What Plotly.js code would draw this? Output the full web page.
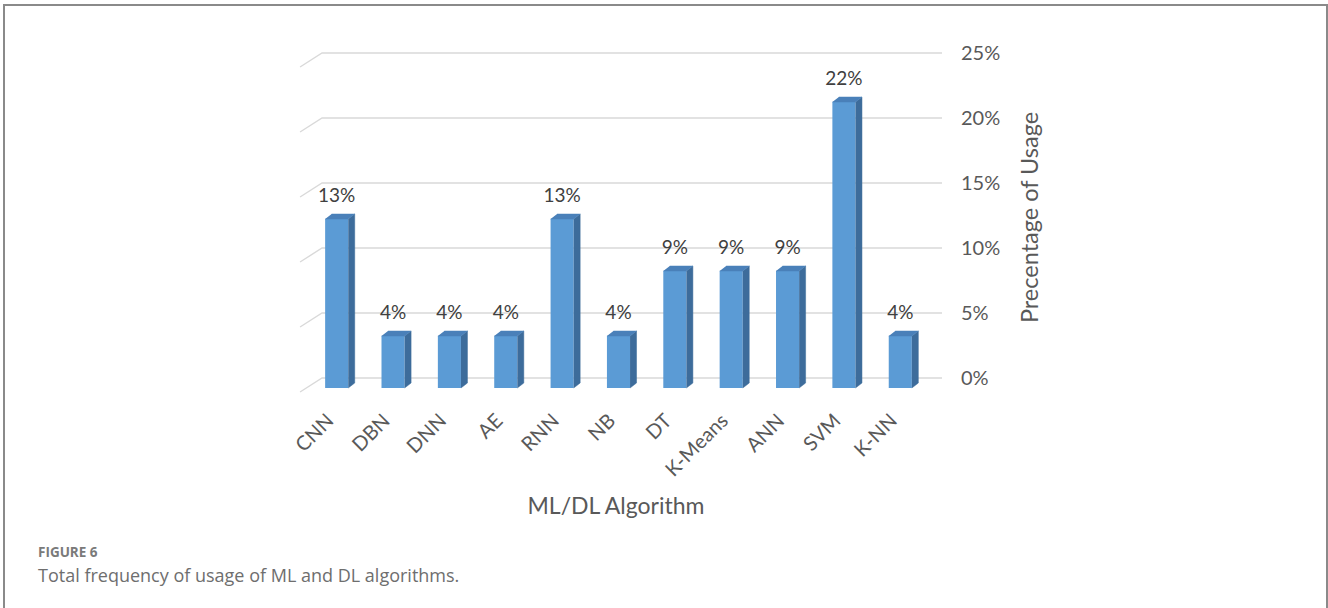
<!DOCTYPE html>
<html>
<head>
<meta charset="utf-8">
<script src="https://cdn.plot.ly/plotly-3.0.1.min.js"></script>
<style>
  html, body { margin: 0; padding: 0; background: #fff; overflow: hidden; }
  #chart { position: absolute; left: 0; top: 0; width: 1328px; height: 608px; }
  #frame { position: absolute; left: 3px; top: 4px; width: 1321px; height: 700px;
           border: 2px solid #8a8a8a; pointer-events: none; }
</style>
</head>
<body>
<div id="chart"></div>
<div id="frame"></div>
<script>
// Share of studies using each ML/DL algorithm (percent)
const categories = ['CNN', 'DBN', 'DNN', 'AE', 'RNN', 'NB', 'DT', 'K-Means', 'ANN', 'SVM', 'K-NN'];
const usagePct = [13, 4, 4, 4, 13, 4, 9, 9, 9, 22, 4];
const tickPct = [0, 5, 10, 15, 20, 25];
const tickText = tickPct.map(t => t + '%');

// Plot box in pixels
const W = 1328, H = 608;
const M = { l: 290, r: 386, t: 40, b: 213 };
const plotW = W - M.l - M.r, plotH = H - M.t - M.b;

// Pseudo-3D geometry, in axis units (category slots / percent)
const FRONT_DX = -0.24, FRONT_DY = -0.77;   // bar front plane relative to back wall
const BAR_W = 0.41;
const SIDE_DX = 0.115, SIDE_DY = 0.385;     // bar depth
const FLOOR_DX = -0.39, FLOOR_DY = -1.077;  // floor depth (wall to front edge)
const LABEL_LIFT = 1.7;
const N = categories.length;

const idx = categories.map((_, i) => i);

// Side and top faces of each column
const sideX = [], sideY = [], topX = [], topY = [];
usagePct.forEach((v, i) => {
  const x0 = i + FRONT_DX - BAR_W / 2, x1 = i + FRONT_DX + BAR_W / 2;
  const b = FRONT_DY, t = v + FRONT_DY;
  sideX.push(x1, x1 + SIDE_DX, x1 + SIDE_DX, x1, null);
  sideY.push(b, b + SIDE_DY, t + SIDE_DY, t, null);
  topX.push(x0, x1, x1 + SIDE_DX, x0 + SIDE_DX, null);
  topY.push(t, t, t + SIDE_DY, t + SIDE_DY, null);
});

const traces = [
  {
    type: 'bar', x: idx, y: usagePct, base: FRONT_DY,
    width: BAR_W, offset: FRONT_DX - BAR_W / 2,
    marker: { color: '#5b9bd5', line: { width: 0 } },
    hoverinfo: 'skip', showlegend: false
  },
  {
    type: 'scatter', mode: 'lines', x: sideX, y: sideY, fill: 'toself',
    fillcolor: '#3d6c9b', line: { color: '#3d6c9b', width: 0.5 },
    hoverinfo: 'skip', showlegend: false
  },
  {
    type: 'scatter', mode: 'lines', x: topX, y: topY, fill: 'toself',
    fillcolor: '#4a80b9', line: { color: '#4a80b9', width: 0.5 },
    hoverinfo: 'skip', showlegend: false
  },
  {
    type: 'scatter', mode: 'text',
    x: idx.map(i => i + FRONT_DX),
    y: usagePct.map(v => v + FRONT_DY + LABEL_LIFT),
    text: usagePct.map(v => v + '%'),
    textposition: 'middle center',
    textfont: { family: 'Lato, sans-serif', size: 19, color: '#404040' },
    hoverinfo: 'skip', showlegend: false
  }
];

// Back-wall gridlines with a slanted stub on the side wall
const gridShapes = tickPct.map(t => ({
  type: 'path', xref: 'x', yref: 'y', layer: 'below',
  path: `M ${-0.5 + FLOOR_DX} ${t + FLOOR_DY} L -0.5 ${t} L ${N - 0.5} ${t}`,
  line: { color: '#d9d9d9', width: 1.4 }
}));

const px2paperX = px => (px - M.l) / plotW;
const px2paperY = py => (H - M.b - py) / plotH;

const layout = {
  width: W, height: H,
  margin: M,
  paper_bgcolor: '#fff', plot_bgcolor: '#fff',
  showlegend: false,
  font: { family: 'Lato, sans-serif', color: '#595959' },
  xaxis: {
    range: [-0.5 - (plotW / 56.36 - N), N - 0.5],
    tickvals: idx.map(i => i - 0.4), ticktext: categories,
    tickangle: -45, ticks: '', ticklabelstandoff: 9,
    showgrid: false, zeroline: false, showline: false,
    tickfont: { family: 'Lato, sans-serif', size: 20, color: '#595959' },
    title: { text: 'ML/DL Algorithm', standoff: 18,
             font: { family: 'Lato, sans-serif', size: 23, color: '#595959' } }
  },
  yaxis: {
    side: 'right',
    range: [26 - plotH / 13, 26],
    tickvals: tickPct, ticktext: tickText, ticks: '', ticklabelstandoff: 18,
    showgrid: false, zeroline: false, showline: false,
    tickfont: { family: 'Lato, sans-serif', size: 20, color: '#595959' },
    title: { text: 'Precentage of Usage', standoff: 22,
             font: { family: 'Lato, sans-serif', size: 23.5, color: '#595959' } }
  },
  shapes: gridShapes,
  annotations: [
    { xref: 'paper', yref: 'paper', x: px2paperX(36), y: px2paperY(552),
      xanchor: 'left', yanchor: 'middle', showarrow: false,
      text: '<b>FIGURE 6</b>',
      font: { family: 'Open Sans, sans-serif', size: 13.5, color: '#7a7a7a' } },
    { xref: 'paper', yref: 'paper', x: px2paperX(36), y: px2paperY(575),
      xanchor: 'left', yanchor: 'middle', showarrow: false,
      text: 'Total frequency of usage of ML and DL algorithms.',
      font: { family: 'Open Sans, sans-serif', size: 18, color: '#6e6e6e' } }
  ]
};

Plotly.newPlot('chart', traces, layout, { staticPlot: true, displayModeBar: false });
</script>
</body>
</html>
